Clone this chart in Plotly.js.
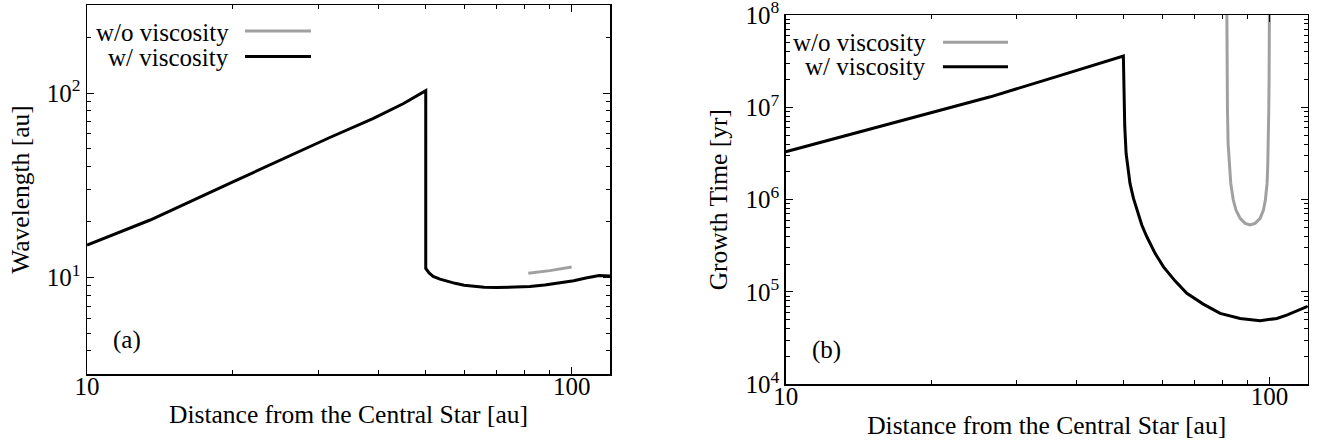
<!DOCTYPE html>
<html><head><meta charset="utf-8">
<script src="https://cdn.plot.ly/plotly-3.0.1.min.js"></script>
<style>html,body{margin:0;padding:0;background:#fff}#chart{width:1322px;height:445px}</style>
</head><body><div id="chart"></div>
<script>
// Panel (a): wavelength [au] vs distance [au]
const lamNoViscX = [81.4, 90.2, 100];
const lamNoViscY = [10.56, 10.9, 11.4];
const lamViscX = [10, 13.5, 20, 31.7, 38.9, 44.9, 50, 50, 50.8, 51.8, 53.5, 55.5, 57.5, 60, 63, 66, 70, 75, 82, 88, 95, 101, 107, 114, 120];
const lamViscY = [15.0, 20.5, 33.0, 57.4, 72.6, 87.5, 103, 11.2, 10.6, 10.15, 9.8, 9.5, 9.3, 9.08, 8.93, 8.85, 8.83, 8.85, 8.93, 9.1, 9.33, 9.6, 9.93, 10.25, 10.2];
// Panel (b): growth time [yr] vs distance [au]
const tNoViscX = [81.6, 81.65, 81.65, 81.76, 81.9, 82.15, 82.7, 83.2, 84.2, 85.3, 87.0, 89.1, 91.2, 93.4, 95.7, 97.2, 98.1, 98.9, 99.2, 99.5, 99.7, 99.86, 100.0, 100.05];
const tNoViscY = [2e8, 9.6e7, 4.93e7, 2.15e7, 9.35e6, 4.07e6, 2.27e6, 1.5e6, 9.9e5, 7.71e5, 6.27e5, 5.53e5, 5.31e5, 5.53e5, 6.27e5, 7.71e5, 9.9e5, 1.5e6, 2.27e6, 4.07e6, 9.35e6, 2.15e7, 9.6e7, 2e8];
const tViscX = [10, 18, 26.5, 36.3, 49.9, 50.07, 50.23, 50.55, 51.03, 51.5, 52.36, 53.2, 54.47, 55.8, 58.03, 60.4, 63.8, 67.5, 73.0, 79.1, 87.0, 95.7, 103.6, 108.6, 113.9, 120];
const tViscY = [3.3e6, 7.6e6, 1.30e7, 2.15e7, 3.6e7, 1.42e7, 6.17e6, 3.18e6, 2.09e6, 1.5e6, 1.03e6, 7.7e5, 5.31e5, 3.96e5, 2.62e5, 1.87e5, 1.32e5, 9.66e4, 7.39e4, 5.86e4, 5.17e4, 4.88e4, 5.17e4, 5.62e4, 6.21e4, 7.0e4];
// Tick labels
const xTickVals = [10, 100];
const xTickText = ['10', '100'];
const xMinorVals = [20, 30, 40, 50, 60, 70, 80, 90];
const lamTickVals = [10, 100];
const lamTickText = ['10<sup>1</sup>', '10<sup>2</sup>'];
const lamMinorVals = [3, 4, 5, 6, 7, 8, 9, 20, 30, 40, 50, 60, 70, 80, 90, 200];
const tTickVals = [1e4, 1e5, 1e6, 1e7, 1e8];
const tTickText = ['10<sup>4</sup>', '10<sup>5</sup>', '10<sup>6</sup>', '10<sup>7</sup>', '10<sup>8</sup>'];
const tMinorVals = [];
[1e4, 1e5, 1e6, 1e7].forEach(d => { for (let k = 2; k <= 9; k++) tMinorVals.push(k * d); });
const labelNoVisc = 'w/o viscosity';
const labelVisc = 'w/ viscosity';
const xTitle = 'Distance from the Central Star [au]';

const F = "'Liberation Serif', 'Times New Roman', Times, serif";
const FS = 25;
const FT = 25.5;
const W = 1322, H = 445;
const GRAY = '#a0a0a0';

function axis(extra) {
  return Object.assign({
    type: 'log', showline: true, linecolor: '#000', linewidth: 1.5, mirror: 'ticks',
    ticks: 'inside', ticklen: 7, tickwidth: 1, tickcolor: '#000',
    showgrid: false, zeroline: false, tickmode: 'array', ticklabeloverflow: 'allow',
    tickfont: {family: F, size: FS, color: '#000'}
  }, extra);
}
function minor(vals) {
  return {ticks: 'inside', ticklen: 4, tickwidth: 1, tickcolor: '#000', tickmode: 'array', tickvals: vals, showgrid: false};
}

const traces = [
  {x: lamNoViscX, y: lamNoViscY, xaxis: 'x', yaxis: 'y', mode: 'lines', line: {color: GRAY, width: 3}, showlegend: false},
  {x: lamViscX, y: lamViscY, xaxis: 'x', yaxis: 'y', mode: 'lines', line: {color: '#000', width: 3}, showlegend: false},
  {x: tNoViscX, y: tNoViscY, xaxis: 'x2', yaxis: 'y2', mode: 'lines', line: {color: GRAY, width: 3}, showlegend: false},
  {x: tViscX, y: tViscY, xaxis: 'x2', yaxis: 'y2', mode: 'lines', line: {color: '#000', width: 3}, showlegend: false}
];

const px = v => v / W, py = v => 1 - v / H;

const ann = (x, y, text, anchor) => ({xref: 'paper', yref: 'paper', x: px(x), y: py(y), text: text, showarrow: false,
  xanchor: anchor, yanchor: 'middle', font: {family: F, size: FS, color: '#000'}});
const seg = (x0, x1, y, c) => ({type: 'line', xref: 'paper', yref: 'paper', x0: px(x0), x1: px(x1), y0: py(y), y1: py(y), line: {color: c, width: 3}});

const layout = {
  width: W, height: H, margin: {l: 0, r: 0, t: 0, b: 0},
  paper_bgcolor: '#fff', plot_bgcolor: '#fff', showlegend: false,
  font: {family: F, size: FS, color: '#000'},
  xaxis: axis({domain: [px(87), px(610)], range: [1, Math.log10(120)], anchor: 'y',
    tickvals: xTickVals, ticktext: xTickText, minor: minor(xMinorVals), ticklabelstandoff: -11,
    title: {text: xTitle, font: {family: F, size: FT}, standoff: 6}}),
  yaxis: axis({domain: [py(374), py(5)], range: [Math.log10(3), Math.log10(300)], anchor: 'x',
    tickvals: lamTickVals, ticktext: lamTickText, minor: minor(lamMinorVals),
    title: {text: 'Wavelength [au]', font: {family: F, size: FT}, standoff: 10}}),
  xaxis2: axis({domain: [px(785.7), px(1307.7)], range: [1, Math.log10(120)], anchor: 'y2',
    tickvals: xTickVals, ticktext: xTickText, minor: minor(xMinorVals), ticklabelstandoff: -11,
    title: {text: xTitle, font: {family: F, size: FT}, standoff: 7}}),
  yaxis2: axis({domain: [py(384.3), py(15)], range: [4, 8], anchor: 'x2',
    tickvals: tTickVals, ticktext: tTickText, minor: minor(tMinorVals),
    title: {text: 'Growth Time [yr]', font: {family: F, size: FT}, standoff: 10}}),
  annotations: [
    ann(231, 32, labelNoVisc, 'right'),
    ann(231, 57, labelVisc, 'right'),
    ann(928, 42.3, labelNoVisc, 'right'),
    ann(928, 66.7, labelVisc, 'right'),
    ann(127, 340, '(a)', 'center'),
    ann(826, 350, '(b)', 'center')
  ],
  shapes: [
    seg(245, 311, 31, GRAY), seg(245, 311, 56.5, '#000'),
    seg(943, 1008, 42.3, GRAY), seg(943, 1008, 66.7, '#000')
  ]
};

Plotly.newPlot('chart', traces, layout, {staticPlot: true, displayModeBar: false});
</script>
</body></html>
